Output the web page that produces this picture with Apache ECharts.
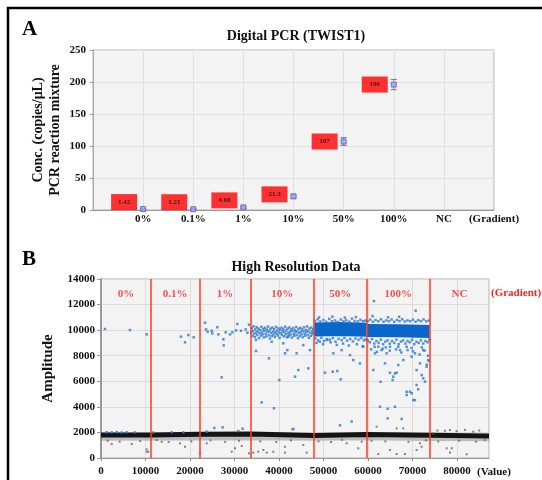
<!DOCTYPE html>
<html>
<head>
<meta charset="utf-8">
<script src="https://cdn.jsdelivr.net/npm/echarts@6/dist/echarts.min.js"></script>
<style>
html, body { margin: 0; padding: 0; background: #fff; }
#main { width: 542px; height: 480px; }
</style>
</head>
<body>
<div id="main"></div>
<script>
// ---- panel A data ----
var gradients = ["0%", "0.1%", "1%", "10%", "50%", "100%", "NC"];
var concValues = [1.42, 1.21, 4.08, 21.3, 107, 196];
var concLabels = ["1.42", "1.21", "4.08", "21.3", "107", "196"];
var concErrors = [0.4, 0.4, 1.5, 2.5, 6, 8];

// ---- panel B data ----
var segmentBounds = [11240, 22090, 33600, 47870, 59700, 73900];
var valueMax = 87200;
var blackBand = [[0, 1800], [11240, 1800], [11240, 1850], [22090, 1850], [22090, 1880], [33600, 1880],
  [33600, 1760], [47870, 1760], [47870, 1840], [59700, 1840], [59700, 1780], [73900, 1780], [73900, 1720], [87200, 1720]];
var blackBandLower = [[0, 1540], [22090, 1560], [33600, 1580], [47870, 1540], [59700, 1580], [73900, 1520], [87200, 1500]];
var blueBand50 = [[47950, 10050], [53500, 10080], [59650, 10030]];
var blueBand100 = [[59750, 9980], [66500, 9950], [73850, 9900]];
var grayPoints = [
  [2400, 1090], [6900, 1090], [10270, 680], [10270, 490], [10630, 490], [13640, 1270], [17750, 1150], [18880, 880],
  [22250, 370], [23750, 1150], [29370, 490], [30110, 760], [31620, 940], [33260, 370], [34230, 420], [35350, 490],
  [36470, 630], [37240, 420], [38720, 490], [41350, 880], [41350, 420], [42990, 2240], [45460, 1020], [46220, 420],
  [55210, 1150], [57820, 760], [62320, 310], [64940, 630], [66450, 310], [68310, 310], [70940, 630], [71690, 1150],
  [77690, 760], [78430, 420], [72070, 880], [61950, 2450], [66450, 2320], [67930, 2320], [77300, 2130], [78430, 2190],
  [74680, 1930], [82180, 290], [78810, 760], [83670, 2060], [75600, 2150], [79900, 2100], [81800, 2200], [85000, 2150],
  [1500, 1350], [4200, 1280], [8800, 1320], [12500, 1400], [15200, 1250], [20300, 1300], [24600, 1380], [27900, 1260],
  [31000, 1350], [35800, 1300], [39400, 1250], [42700, 1380], [48900, 1300], [51700, 1250], [54200, 1420], [58600, 1280],
  [60800, 1350], [63900, 1300], [69100, 1260], [73000, 1380], [75800, 1300], [80500, 1350], [84300, 1280], [86200, 1400]
];
var bluePoints = [
  // 0% / 0.1%
  [900, 10090], [6500, 10010], [10270, 9670], [17980, 9490], [18880, 9050], [19620, 9620], [20830, 9440],
  [1280, 2010], [2400, 2000], [3530, 2020], [4650, 1990], [5770, 2010], [7640, 2000], [11750, 1990], [15880, 2010], [18500, 2000],
  // 1%
  [23370, 10580], [23600, 10060], [23970, 9880], [24870, 9950], [25010, 9750], [26140, 10220], [26370, 9670], [27490, 9280],
  [27570, 8810], [28010, 9830], [28990, 9670], [29510, 9830], [30340, 9980], [30630, 10480], [31460, 9950], [32510, 10060],
  [33260, 10420], [32900, 9800], [27120, 6310], [23750, 2060], [25470, 2350], [27340, 2400], [30860, 2110], [31840, 2290],
  // 10%
  [33750, 9820], [33880, 10150], [34020, 9540], [34160, 9930], [34290, 10300], [34410, 9700], [34570, 9460], [34690, 10060],
  [34820, 9810], [34980, 10230], [35090, 9620], [35240, 9890], [35370, 10120], [35520, 9380], [35640, 9760], [35780, 10010],
  [35930, 9570], [36050, 10260], [36180, 9840], [36330, 9670], [36460, 10090], [36590, 9430], [36720, 9950], [36870, 10180],
  [36990, 9720], [37140, 9510], [37260, 10040], [37410, 9860], [37550, 10280], [37680, 9600], [37830, 9920], [37960, 9350],
  [38090, 10110], [38240, 9780], [38370, 9540], [38510, 10200], [38650, 9890], [38780, 9660], [38920, 10070], [39060, 9470],
  [39190, 9830], [39330, 10250], [39460, 9700], [39610, 9960], [39740, 9580], [39880, 10140], [40010, 9810], [40150, 9390],
  [40290, 10030], [40420, 9750], [40560, 10190], [40700, 9620], [40830, 9900], [40970, 10080], [41110, 9510], [41240, 9860],
  [41380, 10270], [41520, 9680], [41650, 9990], [41790, 9440], [41930, 10120], [42060, 9790], [42200, 9590], [42340, 10210],
  [42480, 9870], [42610, 9650], [42750, 10050], [42890, 9420], [43020, 9930], [43160, 10170], [43300, 9710], [43440, 9560],
  [43570, 10000], [43710, 9840], [43850, 10240], [43980, 9610], [44120, 9890], [44260, 9370], [44390, 10100], [44530, 9770],
  [44670, 9530], [44800, 10180], [44940, 9880], [45080, 9660], [45210, 10060], [45350, 9450], [45490, 9920], [45620, 10220],
  [45760, 9730], [45900, 9570], [46030, 10010], [46170, 9850], [46310, 10290], [46440, 9620], [46580, 9940], [46720, 9400],
  [46850, 10130], [46990, 9780], [47130, 9550], [47270, 10200], [47400, 9900], [47540, 9690], [47680, 10070], [47790, 9820],
  [34830, 8370], [37750, 7800], [40070, 6100], [36110, 4350], [38880, 3890], [41350, 8190], [41870, 8440], [43970, 8190],
  [44340, 6880], [43600, 6360], [46590, 7010], [46970, 8440], [43210, 2270], [34830, 9230], [38360, 9090], [40970, 8970],
  [42090, 9490], [45460, 8830],
  // 50%
  [48100, 10720], [48700, 10850], [49300, 10680], [50000, 10790], [50600, 10650], [51300, 10880], [51900, 10700], [52600, 10760],
  [53200, 10640], [53900, 10830], [54500, 10690], [55100, 10770], [55800, 10660], [56400, 10900], [57000, 10720], [57700, 10680],
  [58300, 10810], [58900, 10700], [59400, 10750], [49000, 11000], [52000, 11050], [54800, 10980], [57300, 11020],
  [48200, 9350], [48800, 9200], [49500, 9400], [50100, 9150], [50800, 9300], [51400, 9250], [52100, 9380], [52700, 9100],
  [53400, 9320], [54100, 9220], [54700, 9400], [55300, 9180], [56000, 9300], [56600, 9120], [57200, 9350], [57900, 9250],
  [58500, 9380], [59100, 9200], [59500, 9280], [48400, 9000], [49900, 8900], [51600, 9050], [53000, 8850], [54400, 8950],
  [55700, 8800], [57500, 8900], [58800, 8750], [49210, 9090], [50720, 9230], [50340, 6670], [52070, 6750], [53100, 6800],
  [53870, 6150], [53710, 2560], [56330, 2850], [52210, 8190], [54090, 8440], [55960, 8050], [56700, 7660], [58200, 7400], [58950, 8700],
  // 100%
  [59900, 10700], [60500, 10820], [61100, 10650], [61700, 10780], [62300, 10700], [62900, 10850], [63500, 10660], [64100, 10760],
  [64700, 10700], [65300, 10830], [65900, 10650], [66500, 10790], [67100, 10710], [67700, 10850], [68300, 10680], [68900, 10760],
  [69500, 10700], [70100, 10820], [70700, 10660], [71300, 10780], [71900, 10700], [72500, 10840], [73100, 10690], [73700, 10750],
  [61050, 11100], [61350, 12270], [70720, 11520], [64500, 11000], [67000, 11050],
  [59950, 9200], [60400, 9050], [60900, 9300], [61400, 8950], [61900, 9150], [62400, 9000], [62900, 9250], [63400, 8900],
  [63900, 9100], [64400, 9200], [64900, 8950], [65400, 9150], [65900, 9000], [66400, 9250], [66900, 8900], [67400, 9100],
  [67900, 9200], [68400, 8950], [68900, 9150], [69400, 9050], [69900, 9250], [70400, 8900], [70900, 9100], [71400, 9000],
  [71900, 9200], [72400, 8950], [72900, 9150], [73400, 9050], [73800, 9250],
  [60700, 8500], [62000, 8300], [63300, 8550], [64900, 8400], [66300, 8500], [67500, 8250], [68900, 8450], [70100, 8350],
  [71600, 8100], [72700, 8400], [73500, 8000], [73700, 7600], [73200, 7300], [61500, 8700], [64000, 8650], [66800, 8700],
  [69800, 8600], [72100, 8650],
  [61200, 6880], [62850, 5960], [63820, 7400], [64200, 8190], [64940, 6670], [65540, 6100], [66070, 6620], [66450, 6670],
  [65690, 6360], [66810, 7270], [62700, 4010], [64420, 3850], [66070, 4010], [64420, 3100], [67570, 3050], [68700, 5180],
  [69440, 5180], [70180, 4530], [70940, 5710], [71300, 5370], [72070, 6490], [72430, 6230], [72810, 5970], [73190, 7140],
  [73550, 7660], [70940, 6880], [71690, 7400], [69820, 7920], [70560, 8190], [72430, 8440], [67930, 7660], [61570, 8190],
  [62320, 8700], [63080, 8440], [64940, 8700], [67190, 8440], [68700, 8700], [69820, 5060], [68700, 4930], [70560, 4530]
];
var segmentLabelLevel = 12800;

var serif = '"Liberation Serif", "Times New Roman", serif';

var myChart = echarts.init(document.getElementById("main"));

var errorData = concValues.map(function (v, i) {
  return [i + 1, v - concErrors[i], v + concErrors[i]];
});
var pointData = concValues.map(function (v, i) {
  var dy = v < 10 ? -7 : (v < 50 ? -2 : 0);
  return { value: [i + 1, v], label: { offset: [0, dy] } };
});

var edges = [0].concat(segmentBounds).concat([valueMax]);
var segLabelData = gradients.map(function (g, i) {
  return { name: g, value: [(edges[i] + edges[i + 1]) / 2, segmentLabelLevel] };
});

function renderErr(params, api) {
  var x = api.value(0);
  var top = api.coord([x, api.value(2)]);
  var bot = api.coord([x, api.value(1)]);
  var w = 3;
  return {
    type: "group",
    children: [
      { type: "line", shape: { x1: top[0], y1: top[1], x2: bot[0], y2: bot[1] }, style: { stroke: "#8c8cb4", lineWidth: 1 } },
      { type: "line", shape: { x1: top[0] - w, y1: top[1], x2: top[0] + w, y2: top[1] }, style: { stroke: "#777", lineWidth: 1 } },
      { type: "line", shape: { x1: bot[0] - w, y1: bot[1], x2: bot[0] + w, y2: bot[1] }, style: { stroke: "#777", lineWidth: 1 } }
    ]
  };
}

var boldLabel = { fontFamily: serif, fontWeight: "bold", fontSize: 11, color: "#111" };

var option = {
  animation: false,
  backgroundColor: "#fff",
  title: [
    { text: "Digital PCR (TWIST1)", left: 291, top: 24, textAlign: "center",
      textStyle: { fontFamily: serif, fontWeight: "bold", fontSize: 14, color: "#111" } },
    { text: "High Resolution Data", left: 291, top: 255, textAlign: "center",
      textStyle: { fontFamily: serif, fontWeight: "bold", fontSize: 14, color: "#111" } }
  ],
  grid: [
    { left: 93, right: 48, top: 50, height: 160, show: true, backgroundColor: "#f3f3f3", borderColor: "#b0b0b0", borderWidth: 1 },
    { left: 101, right: 53, top: 279, height: 179, show: true, backgroundColor: "#f3f3f3", borderColor: "#b0b0b0", borderWidth: 1 }
  ],
  xAxis: [
    {
      gridIndex: 0, type: "value", min: 0, max: 8, interval: 1,
      axisLine: { show: true, lineStyle: { color: "#999" } },
      axisTick: { show: false },
      splitLine: { show: true, lineStyle: { color: "#e0e0e0" } },
      axisLabel: Object.assign({ margin: 4, showMaxLabel: true, showMinLabel: true,
        formatter: function (v) { return v === 0 ? "" : (v <= gradients.length ? gradients[v - 1] : "(Gradient)"); } }, boldLabel)
    },
    {
      gridIndex: 1, type: "value", min: 0, max: valueMax, interval: 10000,
      axisLine: { show: true, lineStyle: { color: "#999" } },
      axisTick: { show: true, length: 3, lineStyle: { color: "#888" } },
      splitLine: { show: true, lineStyle: { color: "#dcdcdc" } },
      axisLabel: Object.assign({ margin: 8, showMaxLabel: false,
        formatter: function (v) { return v % 10000 === 0 ? String(v) : ""; } }, boldLabel)
    }
  ],
  yAxis: [
    {
      gridIndex: 0, type: "value", min: 0, max: 250, interval: 50,
      name: "Conc. (copies/\u03bcL)\nPCR reaction mixture", nameLocation: "middle", nameGap: 29, nameMoveOverlap: false,
      nameTextStyle: { fontFamily: serif, fontWeight: "bold", fontSize: 14, color: "#111", lineHeight: 17 },
      axisLine: { show: true, lineStyle: { color: "#aaa" } },
      axisTick: { show: true, length: 3, lineStyle: { color: "#999" } },
      splitLine: { show: true, lineStyle: { color: "#e0e0e0" } },
      axisLabel: Object.assign({ margin: 7, formatter: function (v) { return String(v); } }, boldLabel)
    },
    {
      gridIndex: 1, type: "value", min: 0, max: 14000, interval: 2000,
      name: "Amplitude", nameLocation: "middle", nameGap: 45, nameMoveOverlap: false,
      nameTextStyle: { fontFamily: serif, fontWeight: "bold", fontSize: 15, color: "#111" },
      axisLine: { show: true, lineStyle: { color: "#999", width: 2 } },
      axisTick: { show: true, length: 4, lineStyle: { color: "#999" } },
      splitLine: { show: true, lineStyle: { color: "#dcdcdc" } },
      axisLabel: Object.assign({ margin: 6, formatter: function (v) { return String(v); } }, boldLabel)
    }
  ],
  graphic: [
    { type: "rect", shape: { x: 8, y: 8, width: 560, height: 520 }, style: { fill: "none", stroke: "#000", lineWidth: 2.5 }, z: 100 },
    { type: "text", left: 22, top: 19, style: { text: "A", font: "bold 21px " + serif, fill: "#000" } },
    { type: "text", left: 22, top: 249, style: { text: "B", font: "bold 21px " + serif, fill: "#000" } },
    { type: "text", left: 491, top: 288, style: { text: "(Gradient)", font: "bold 11px " + serif, fill: "#ff2020" } },
    { type: "text", left: 477, top: 467, style: { text: "(Value)", font: "bold 11px " + serif, fill: "#111" } }
  ],
  series: [
    {
      type: "custom", xAxisIndex: 0, yAxisIndex: 0, renderItem: renderErr,
      encode: { x: 0, y: [1, 2] }, data: errorData, z: 3
    },
    {
      type: "scatter", xAxisIndex: 0, yAxisIndex: 0, symbol: "rect", symbolSize: 5,
      itemStyle: { color: "#a4a4ea", borderColor: "#5656c4", borderWidth: 1 },
      label: {
        show: true, position: "left", distance: 3,
        formatter: function (p) { return "{a|" + concLabels[p.dataIndex] + "}"; },
        rich: { a: { width: 26, height: 16, lineHeight: 16, align: "center", backgroundColor: "#ff0000",
          color: "#111", fontFamily: serif, fontWeight: "bold", fontSize: 7 } }
      },
      data: pointData, z: 4
    },
    {
      type: "line", xAxisIndex: 1, yAxisIndex: 1, data: blackBandLower, showSymbol: false, silent: true,
      lineStyle: { color: "rgba(90,90,90,0.35)", width: 5 }, z: 2
    },
    {
      type: "line", xAxisIndex: 1, yAxisIndex: 1, data: blackBand, showSymbol: false, silent: true,
      lineStyle: { color: "#141414", width: 5 }, z: 3
    },
    {
      type: "line", xAxisIndex: 1, yAxisIndex: 1, data: blueBand50, showSymbol: false, silent: true,
      lineStyle: { color: "#0b66cc", width: 14, cap: "butt" }, z: 3
    },
    {
      type: "line", xAxisIndex: 1, yAxisIndex: 1, data: blueBand100, showSymbol: false, silent: true,
      lineStyle: { color: "#0b66cc", width: 13, cap: "butt" }, z: 3
    },
    {
      type: "scatter", xAxisIndex: 1, yAxisIndex: 1, data: grayPoints, symbol: "rect", symbolSize: 2,
      itemStyle: { color: "#666" }, silent: true, z: 4
    },
    {
      type: "scatter", xAxisIndex: 1, yAxisIndex: 1, data: bluePoints, symbol: "rect", symbolSize: 2.5,
      itemStyle: { color: "#2a7bd0" }, silent: true, z: 4
    },
    {
      type: "scatter", xAxisIndex: 1, yAxisIndex: 1, data: segLabelData, symbolSize: 0, silent: true, z: 6,
      label: { show: true, position: "inside", formatter: "{b}", fontFamily: serif, fontWeight: "bold", fontSize: 11, color: "#ff2020" },
      markLine: {
        silent: true, symbol: "none", label: { show: false },
        lineStyle: { color: "#ff3a1e", width: 1.5, type: "solid" },
        data: segmentBounds.map(function (b) { return { xAxis: b }; })
      }
    }
  ]
};

option && myChart.setOption(option);
</script>
</body>
</html>
